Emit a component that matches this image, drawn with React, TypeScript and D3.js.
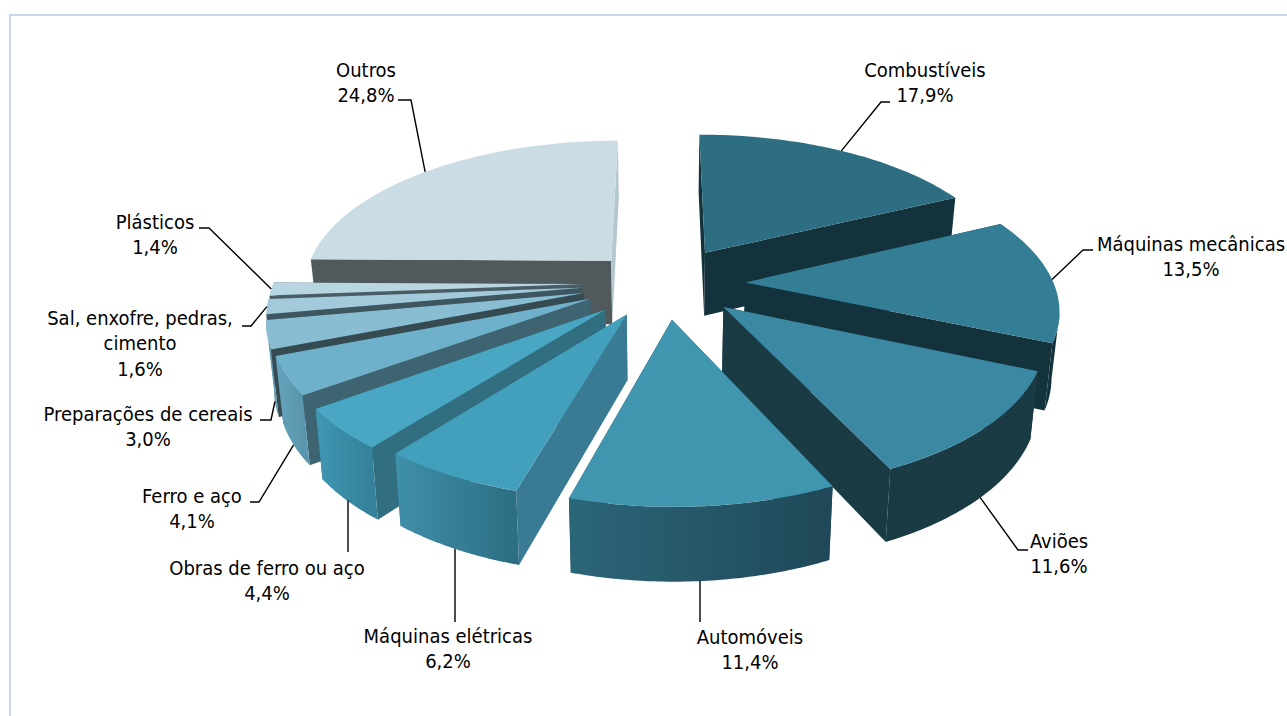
import React from "react";
import * as d3 from "d3";

const categories = ["Combustíveis","Máquinas mecânicas","Aviões","Automóveis","Máquinas elétricas","Obras de ferro ou aço","Ferro e aço","Preparações de cereais","Sal, enxofre, pedras, cimento","Plásticos","Outros"];
const shares = [17.9,13.5,11.6,11.4,6.2,4.4,4.1,3.0,1.6,1.4,24.8];
const labelLines = [["Combustíveis"],["Máquinas mecânicas"],["Aviões"],["Automóveis"],["Máquinas elétricas"],["Obras de ferro ou aço"],["Ferro e aço"],["Preparações de cereais"],["Sal, enxofre, pedras,","cimento"],["Plásticos"],["Outros"]];

// styling and layout, separate from the values
const topColors = ["#2D6E82","#347E95","#3A88A2","#4095AF","#43A0BC","#49A7C4","#6FB1CA","#89BDD1","#A3CADB","#B8D6E2","#CADDE5"];
const startWallColors = ["#14323C","#14323C","#1A3A44","#1F4858","#3A7B94","#306E80","#3E6472","#364A52","#3E5660","#4A5C64","#50595B"];
const endWallColors = ["#14323C","#14323C","#1A3A44","#1F4858","#3A7B94","#306E80","#3E6472","#364A52","#3E5660","#4A5C64","#B4C6CE"];
const outerFrom = ["#14323C","#14323C","#1A3A44","#2B6678","#3F8FA9","#3F97B2","#64A3BB","#6FA5BA","#90BACB","#A8C6D2","#B4C6CE"];
const outerTo = ["#14323C","#14323C","#1A3A44","#1F4858","#2C6E82","#35809A","#5A97AF","#6198AE","#90BACB","#A8C6D2","#B4C6CE"];
const explode = [0.27,0.27,0.27,0.23,0.22,0.24,0.26,0.26,0.26,0.26,0.24];
const nudgeU = [0,0,0,0.013,-0.01,-0.005,0,0,0,0,0];
const nudgeV = [0,-0.012,-0.04,0,0,0,-0.03,-0.015,-0.015,-0.015,0];
const labelX = [925,1191,1059,750,448,267,192,148,140,155,366];
const labelY = [70,244,541,637,636,568,496,414,318,222,70];
const leaderElbows: number[][][] = [
  [[881,102],[890,102]],[[1083,250],[1093,250]],[[1018,550],[1028,550]],[[700,622]],[[455,622]],[[348,552]],
  [[259,502],[250,502]],[[271,420],[260,420]],[[251,326],[242,326]],[[209,228],[199,228]],[[411,100],[398,100]],
];
const leaderOnBase = [false,false,true,true,true,true,true,true,false,false,false];
const paintOrder = [10,9,8,7,6,5,4,0,1,2,3];

const CX = 662, HORIZON = -650, DEPTH = 935, P = 0.156, RX = 309, WALL_A = 21, WALL_B = 43.5, BASE_SCALE = 0.98;
const CAMERA_V = 1 / P;

const pieGen = d3.pie<number>().sort(null).value(d => d);
const arcs = pieGen(shares);

type Pt = [number, number];
function project(u: number, v: number): Pt {
  const w = 1 - P * v;
  return [CX + (RX * u) / w, HORIZON + DEPTH / w];
}
function drop([x, y]: Pt): Pt {
  const w = DEPTH / (y - HORIZON);
  return [CX + (x - CX) * BASE_SCALE, y + WALL_A + WALL_B / w];
}
const lineGen = d3.line<Pt>();

function App() {
  const slices = arcs.map((a, i) => {
    const mid = (a.startAngle + a.endAngle) / 2;
    const du = explode[i] * Math.sin(mid) + nudgeU[i], dv = -explode[i] * Math.cos(mid) + nudgeV[i];
    const at = (t: number): Pt => project(du + Math.sin(t), dv - Math.cos(t));
    const apex = project(du, dv);
    const angles = d3.range(0, 61).map(k => a.startAngle + ((a.endAngle - a.startAngle) * k) / 60);
    const arcPts = angles.map(at);
    // only the part of the outer wall that faces the camera is painted
    const frontPts = angles
      .filter(t => {
        const nu = Math.sin(t), nv = -Math.cos(t);
        return nu * (-(du + nu)) + nv * (CAMERA_V - (dv + nv)) > 0;
      })
      .map(at);
    return {
      i, apex, arcPts, top: [apex, ...arcPts] as Pt[],
      startWall: [apex, arcPts[0], drop(arcPts[0]), drop(apex)] as Pt[],
      endWall: [apex, arcPts[60], drop(arcPts[60]), drop(apex)] as Pt[],
      outer: [...frontPts, ...frontPts.map(drop).reverse()] as Pt[],
      anchor: leaderOnBase[i] ? drop(at(mid)) : at(mid),
      xRange: d3.extent(arcPts, p => p[0]) as [number, number],
    };
  });
  return (
    <svg width={1287} height={716} style={{ position: "absolute", left: 0, top: 0, display: "block" }}>
      <rect width={1287} height={716} fill="#fff" />
      <rect x={10} y={15} width={1500} height={900} fill="#fff" stroke="#C8D7EC" strokeWidth={2} />
      <defs>
        {slices.map(s => (
          <linearGradient key={s.i} id={`o${s.i}`} gradientUnits="userSpaceOnUse" x1={s.xRange[0]} x2={s.xRange[1]} y1={0} y2={0}>
            <stop offset="0" stopColor={outerFrom[s.i]} />
            <stop offset="1" stopColor={outerTo[s.i]} />
          </linearGradient>
        ))}
      </defs>
      {paintOrder.map(i => {
        const s = slices[i];
        return (
          <g key={categories[i]}>
            <path d={lineGen(s.startWall)! + "Z"} fill={startWallColors[i]} />
            <path d={lineGen(s.endWall)! + "Z"} fill={endWallColors[i]} />
            {s.outer.length > 2 && <path d={lineGen(s.outer)! + "Z"} fill={`url(#o${i})`} />}
            <path d={lineGen(s.top)! + "Z"} fill={topColors[i]} />
          </g>
        );
      })}
      {slices.map(s => {
        const elbows = leaderElbows[s.i] as Pt[];
        const start: Pt = elbows.length === 1 ? [elbows[0][0], s.anchor[1]] : s.anchor;
        return <path key={s.i} d={lineGen([start, ...elbows])!} fill="none" stroke="#000" strokeWidth={1.4} />;
      })}
      <g fontFamily="'DejaVu Sans'" fontSize={20} fill="#000" textAnchor="middle" style={{ fontStretch: "condensed" }}>
        {categories.map((c, i) => {
          const lines = [...labelLines[i], `${shares[i].toFixed(1).replace(".", ",")}%`];
          return lines.map((t, k) => (
            <text key={c + k} x={labelX[i]} y={labelY[i] + 7 + k * 25.3}>{t}</text>
          ));
        })}
      </g>
    </svg>
  );
}

export default App;
